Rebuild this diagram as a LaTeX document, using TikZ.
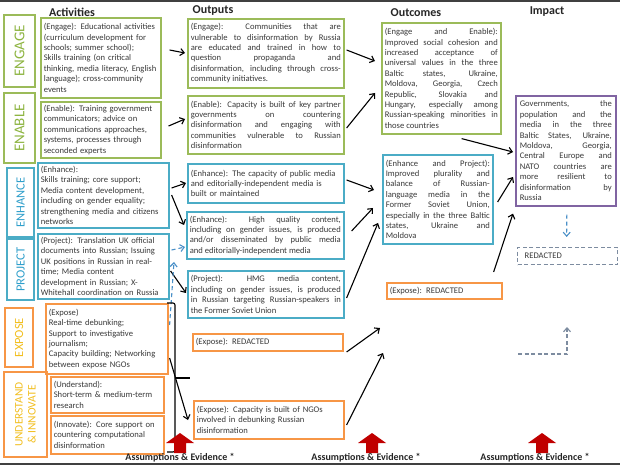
\documentclass[tikz,border=0pt]{standalone}
\usepackage{fontspec}
\setmainfont{Carlito}
\usetikzlibrary{arrows.meta,calc}
\definecolor{cgreen}{HTML}{9BBB59}
\definecolor{cblue}{HTML}{4BACC6}
\definecolor{corange}{HTML}{F79646}
\definecolor{cpurple}{HTML}{8064A2}
\definecolor{lgreen}{HTML}{8DB440}
\definecolor{lblue}{HTML}{2F9FCB}
\definecolor{lyellow}{HTML}{F2BF1F}
\definecolor{txt}{HTML}{3A3A3A}
\definecolor{dblue}{HTML}{4A90C8}
\definecolor{dgray}{HTML}{7D8CA0}
\definecolor{cred}{HTML}{C00000}
\newcommand\bxfont{\fontsize{8.6bp}{10.4bp}\selectfont}
\tolerance=10000
\hyphenpenalty=10000
\begin{document}
\begin{tikzpicture}[x=1bp,y=-1bp,
 bx/.style={draw, rectangle, line width=1.6bp, inner xsep=3bp, inner ysep=1bp, anchor=north west, font=\bxfont, text=txt},
 lbl/.style={draw, rectangle, line width=1.6bp, rotate=90, inner sep=0pt},
 hd/.style={font=\fontsize{12bp}{14bp}\selectfont\bfseries, text=black!85},
 ae/.style={font=\fontsize{10bp}{12bp}\selectfont\bfseries, text=black!85},
 ar/.style={line width=1.1bp, -{Straight Barb[length=4bp,width=7bp]}},
 dar/.style={line width=1.1bp, dash pattern=on 4bp off 3bp, dblue, -{Straight Barb[length=4bp,width=7bp]}},
]
\useasboundingbox (0,0) rectangle (620,465);
\fill[white] (0,0) rectangle (620,465);
\fill[black!75] (0,0) rectangle (620,2);
\fill[black!75] (0,463) rectangle (620,465);

% headers
\node[hd] (h1) at (72,12) {Activities};
\node[hd] (h2) at (213,11) {Outputs};
\node[hd] (h3) at (416,13) {Outcomes};
\node[hd] (h4) at (547,12) {Impact};

% labels
\node[lbl, draw=cgreen, text=lgreen, minimum width=72bp, minimum height=31bp, font=\fontsize{15bp}{17bp}\selectfont] (L1) at (19.5,51) {ENGAGE};
\node[lbl, draw=cgreen, text=lgreen, minimum width=70bp, minimum height=31bp, font=\fontsize{15bp}{17bp}\selectfont] (L2) at (19.5,128) {ENABLE};
\node[lbl, draw=cblue, text=lblue, minimum width=69bp, minimum height=27bp, font=\fontsize{12.5bp}{15bp}\selectfont] (L3) at (20.5,202.5) {ENHANCE};
\node[lbl, draw=cblue, text=lblue, minimum width=61bp, minimum height=27bp, font=\fontsize{12.5bp}{15bp}\selectfont] (L4) at (20.5,269.5) {PROJECT};
\node[lbl, draw=corange, text=lyellow, minimum width=59bp, minimum height=28bp, font=\fontsize{12.5bp}{15bp}\selectfont] (L5) at (19,337.5) {EXPOSE};
\node[lbl, draw=corange, text=lyellow, minimum width=85bp, minimum height=43bp, align=center, font=\fontsize{11.5bp}{13bp}\selectfont] (L6) at (25.5,414.5) {UNDERSTAND\\\& INNOVATE};

% activities
\node[bx, draw=cgreen, minimum width=120bp, minimum height=80bp, text width=114bp, align=left] (A1) at (40,17) {(Engage): Educational activities\\(curriculum development for\\schools; summer school);\\Skills training (on critical\\thinking, media literacy, English\\language); cross-community\\events};
\node[bx, draw=cgreen, minimum width=120bp, minimum height=56bp, text width=114bp, align=left] (A2) at (40,101) {(Enable): Training government\\communicators; advice on\\communications approaches,\\systems, processes through\\seconded experts};
\node[bx, draw=cblue, minimum width=131bp, minimum height=65bp, text width=125bp, align=left] (A3) at (37,162) {(Enhance):\\Skills training; core support;\\Media content development,\\including on gender equality;\\strengthening media and citizens\\networks};
\node[bx, draw=cblue, minimum width=131bp, minimum height=65bp, text width=125bp, align=left] (A4) at (37,233) {(Project): Translation UK official\\documents into Russian; Issuing\\UK positions in Russian in real-\\time; Media content\\development in Russian; X-\\Whitehall coordination on Russia};
\node[bx, draw=corange, minimum width=122bp, minimum height=70bp, text width=116bp, align=left] (A5) at (45,303) {(Expose)\\Real-time debunking;\\Support to investigative\\journalism;\\Capacity building; Networking\\between expose NGOs};
\node[bx, draw=corange, minimum width=113bp, minimum height=36bp, text width=107bp, align=left] (A6) at (50,376) {(Understand):\\Short-term \& medium-term\\research};
\node[bx, draw=corange, minimum width=113bp, minimum height=38bp, text width=107bp, align=left] (A7) at (50,415) {(Innovate): Core support on\\countering computational\\disinformation};

% outputs
\node[bx, draw=cgreen, minimum width=156bp, minimum height=69bp, text width=150bp, align=justify] (O1) at (187,18) {(Engage): Communities that are\linebreak vulnerable to disinformation by Russia\linebreak are educated and trained in how to\linebreak question propaganda and\linebreak disinformation, including through cross-\linebreak community initiatives.};
\node[bx, draw=cgreen, minimum width=156bp, minimum height=58bp, text width=150bp, align=justify] (O2) at (187,95) {(Enable): Capacity is built of key partner\linebreak governments on countering\linebreak disinformation and engaging with\linebreak communities vulnerable to Russian\linebreak disinformation};
\node[bx, draw=cblue, minimum width=156bp, minimum height=39bp, text width=150bp, align=left] (O3) at (187,163) {(Enhance): The capacity of public media\\and editorially-independent media is\\built or maintained};
\node[bx, draw=cblue, minimum width=157bp, minimum height=47bp, text width=151bp, align=justify] (O4) at (186,211) {(Enhance): High quality content,\linebreak including on gender issues, is produced\linebreak and/or disseminated by public media\linebreak and editorially-independent media};
\node[bx, draw=cblue, minimum width=156bp, minimum height=47bp, text width=150bp, align=justify] (O5) at (187,270) {(Project): HMG media content,\linebreak including on gender issues, is produced\linebreak in Russian targeting Russian-speakers in\linebreak the Former Soviet Union};
\node[bx, draw=corange, minimum width=150bp, minimum height=17bp, text width=144bp, align=left] (O6) at (192,333) {(Expose): REDACTED};
\node[bx, draw=corange, minimum width=150bp, minimum height=38bp, text width=144bp, align=left] (O7) at (193,400) {(Expose): Capacity is built of NGOs\\involved in debunking Russian\\disinformation};

% outcomes
\node[bx, draw=cgreen, minimum width=119bp, minimum height=111bp, text width=113bp, align=justify] (C1) at (381,22) {(Engage and Enable):\linebreak Improved social cohesion and\linebreak increased acceptance of\linebreak universal values in the three\linebreak Baltic states, Ukraine,\linebreak Moldova, Georgia, Czech\linebreak Republic, Slovakia and\linebreak Hungary, especially among\linebreak Russian-speaking minorities in\linebreak those countries};
\node[bx, draw=cblue, minimum width=110bp, minimum height=89bp, text width=104bp, align=justify] (C2) at (382,154) {(Enhance and Project):\linebreak Improved plurality and\linebreak balance of Russian-\linebreak language media in the\linebreak Former Soviet Union,\linebreak especially in the three Baltic\linebreak states, Ukraine and\linebreak Moldova};
\node[bx, draw=corange, minimum width=115bp, minimum height=16bp, text width=109bp, align=left] (C3) at (386,282) {(Expose): REDACTED};

% impact
\node[bx, draw=cpurple, minimum width=100bp, minimum height=110bp, text width=92bp, inner xsep=4bp, align=justify] (I) at (515,95) {Governments, the\linebreak population and the\linebreak media in the three\linebreak Baltic States, Ukraine,\linebreak Moldova, Georgia,\linebreak Central Europe and\linebreak NATO countries are\linebreak more resilient to\linebreak disinformation by\linebreak Russia};
\node[bx, draw=dgray, line width=1.3bp, dash pattern=on 4bp off 2.5bp, minimum width=100bp, minimum height=17bp, inner xsep=7bp, text width=86bp, align=left] (R) at (517,247) {REDACTED};

% black arrows
\draw[ar] ($(A1.north east)+(8,33)$) -- ($(O1.north west)+(-2,35)$);
\draw[ar] ($(A2.north east)+(7,25)$) -- ($(O2.north west)+(-2,24)$);
\draw[ar] ($(O1.north east)+(2,32)$) -- ($(C1.north west)+(-6,39)$);
\draw[ar] ($(O2.north east)+(2,33)$) -- ($(C1.north west)+(-6,71)$);
\draw[ar] ($(A3.north east)+(2,26)$) -- ($(O3.north west)+(-1,20)$);
\draw[ar] ($(A3.north east)+(2,33)$) -- ($(O4.north west)+(-2,14)$);
\draw[ar] ($(A4.north east)+(1,38)$) -- ($(O5.north west)+(-1,23)$);
\draw[ar] ($(A5.north east)+(1,55)$) -- ($(O7.north west)+(-5,20)$);
\draw[ar] ($(O3.north east)+(2,17)$) -- ($(C2.north west)+(-8,36)$);
\draw[ar] ($(O4.north east)+(7,20)$) -- ($(C2.north west)+(-9,54)$);
\draw[ar] ($(O5.north east)+(2,28)$) -- ($(C2.north west)+(-4,69)$);
\draw[ar] ($(O6.north east)+(3,19)$) -- ($(C3.north west)+(-6,46)$);
\draw[ar] ($(O7.north east)+(2,25)$) -- ($(C3.north west)+(-3,71)$);
\draw[ar] ($(C1.south east)+(-40,4)$) -- ($(I.north west)+(-2,57)$);
\draw[ar] ($(C2.north east)+(4,48)$) -- ($(I.north west)+(-2,82)$);
\draw[ar] ($(C3.north east)+(-9,-10)$) -- ($(I.south west)+(-2,7)$);

% dashed blue arrows
\draw[dar] ($(A4.north east)+(2,17)$) -- ($(O4.north west)+(-1,36)$);
\draw[dar] ($(A5.north east)+(1,22)$) -- ($(O4.north west)+(-12,51)$);
\draw[dar] ($(I.south)+(1,8)$) -- ($(R.north)+(-1,-10)$);

% dashed gray return arrow
\coordinate (g1) at (518,354);
\coordinate (g2) at (567,327);
\draw[dgray, line width=1.1bp, dash pattern=on 4bp off 2.5bp, -{Straight Barb[length=4bp,width=7bp]}] (g1) -| (g2);

% brace grouping expose / understand / innovate
\coordinate (b1) at (167,303);
\coordinate (b2) at (167,452);
\coordinate (b3) at (190,378);
\draw[line width=1.1bp, rounded corners=2bp] (b1) -- (175,303) -- (175,452) -- (b2);
\draw[line width=1.1bp] (175,378) -- (b3);

% red arrows
\foreach \cx in {180,372,542} {
  \fill[cred] (\cx,433) -- (\cx+14,443) -- (\cx+6,443) -- (\cx+6,453) -- (\cx-6,453) -- (\cx-6,443) -- (\cx-14,443) -- cycle;
}

\node[ae] (ae1) at (180,458) {Assumptions \& Evidence *};
\node[ae] (ae2) at (366,458) {Assumptions \& Evidence *};
\node[ae] (ae3) at (535,458) {Assumptions \& Evidence *};
\end{tikzpicture}
\end{document}
